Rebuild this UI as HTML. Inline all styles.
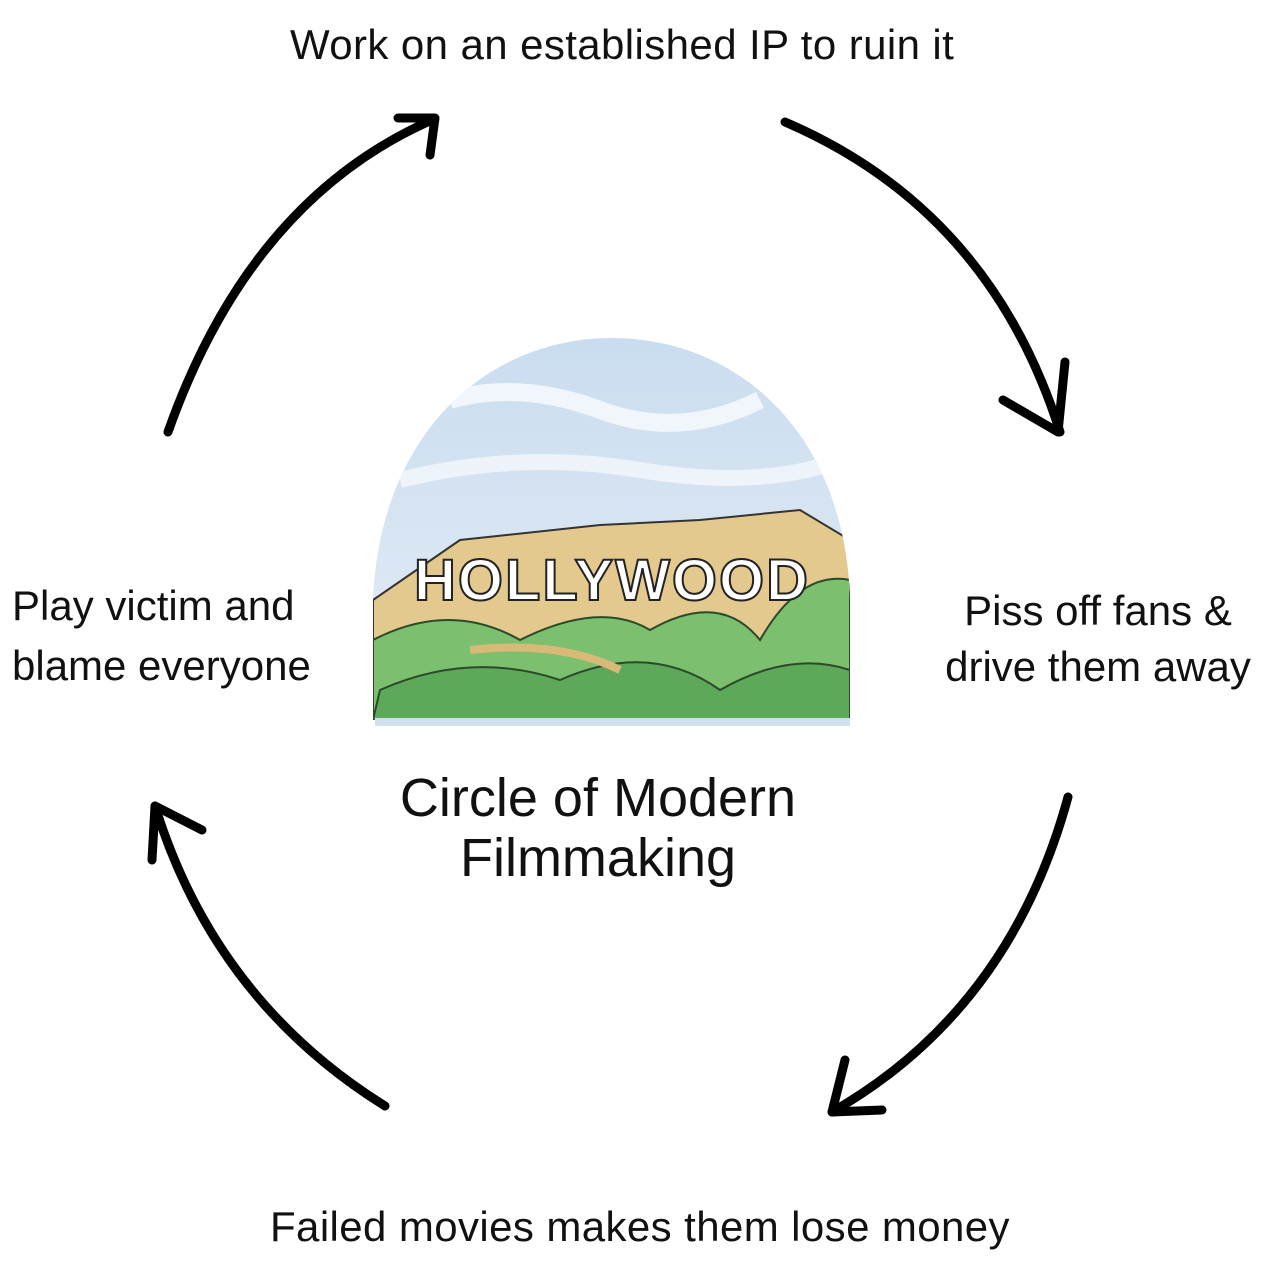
<!DOCTYPE html>
<html><head><meta charset="utf-8"><style>
html,body{margin:0;padding:0;background:#fff;}
body{width:1280px;height:1280px;position:relative;overflow:hidden;font-family:"Liberation Sans",sans-serif;color:#111;}
.t{position:absolute;white-space:nowrap;line-height:1;}
</style></head><body>
<svg width="1280" height="1280" style="position:absolute;left:0;top:0">
<defs>
<linearGradient id="sky" x1="0" y1="0" x2="0" y2="1"><stop offset="0" stop-color="#c9dcef"/><stop offset="1" stop-color="#e6eef6"/></linearGradient>
<clipPath id="dome"><path d="M373 720 L373 600 C380 430 490 338 612 338 C735 338 845 430 850 600 L850 720 Z"/></clipPath>
</defs>
<g fill="none" stroke="#000" stroke-width="9" stroke-linecap="round" stroke-linejoin="round">
<path d="M168 432 Q250 200 432 120"/>
<path d="M398 118 L435 118 L430 155"/>
<path d="M785 122 Q990 210 1060 432"/>
<path d="M1003 400 L1058 432 L1065 362"/>
<path d="M1068 797 Q1010 1010 832 1112"/>
<path d="M845 1060 L832 1112 L882 1110"/>
<path d="M385 1106 Q215 1000 155 806"/>
<path d="M152 860 L155 806 L202 830"/>
</g>
<g clip-path="url(#dome)">
<rect x="360" y="330" width="500" height="410" fill="url(#sky)"/>
<path d="M450 400 Q520 380 600 410 T760 400" stroke="#fff" stroke-width="18" fill="none" opacity=".7"/>
<path d="M400 480 Q520 450 640 470 T840 460" stroke="#fff" stroke-width="16" fill="none" opacity=".6"/>
<path d="M373 600 L460 540 L600 525 L700 520 L800 510 L850 540 L850 720 L373 720 Z" fill="#e3c98e" stroke="#333" stroke-width="2"/>
<path d="M373 640 Q450 600 520 640 Q600 600 650 630 Q720 590 760 640 Q800 570 850 580 L850 720 L373 720 Z" fill="#7cbf6e" stroke="#2a4a2a" stroke-width="2"/>
<path d="M380 690 Q470 650 560 680 Q650 640 720 690 Q790 650 850 670 L850 720 L373 720 Z" fill="#5ea85a" stroke="#2a4a2a" stroke-width="2"/>
<path d="M470 650 Q560 640 620 670" stroke="#d9b978" stroke-width="8" fill="none"/>
</g>
<rect x="375" y="718" width="475" height="8" fill="#cfe0f0"/>
<text x="612" y="600" text-anchor="middle" font-family="Liberation Sans Narrow,Liberation Sans,sans-serif" font-size="58" font-weight="bold" fill="#fff" stroke="#222" stroke-width="2" letter-spacing="2">HOLLYWOOD</text>
</svg>
<div class="t" style="left:290px;top:24px;font-size:42px;letter-spacing:0.4px;">Work on an established IP to ruin it</div>
<div class="t" style="left:12px;top:576px;font-size:42px;line-height:60px;">Play victim and<br>blame everyone</div>
<div class="t" style="left:940px;top:583px;font-size:42px;line-height:56px;text-align:center;width:316px;">Piss off fans &amp;<br>drive them away</div>
<div class="t" style="left:270px;top:1206px;font-size:42px;letter-spacing:0.4px;">Failed movies makes them lose money</div>
<div class="t" style="left:348px;top:768px;width:500px;text-align:center;font-size:54px;line-height:60px;">Circle of Modern<br>Filmmaking</div>
</body></html>
